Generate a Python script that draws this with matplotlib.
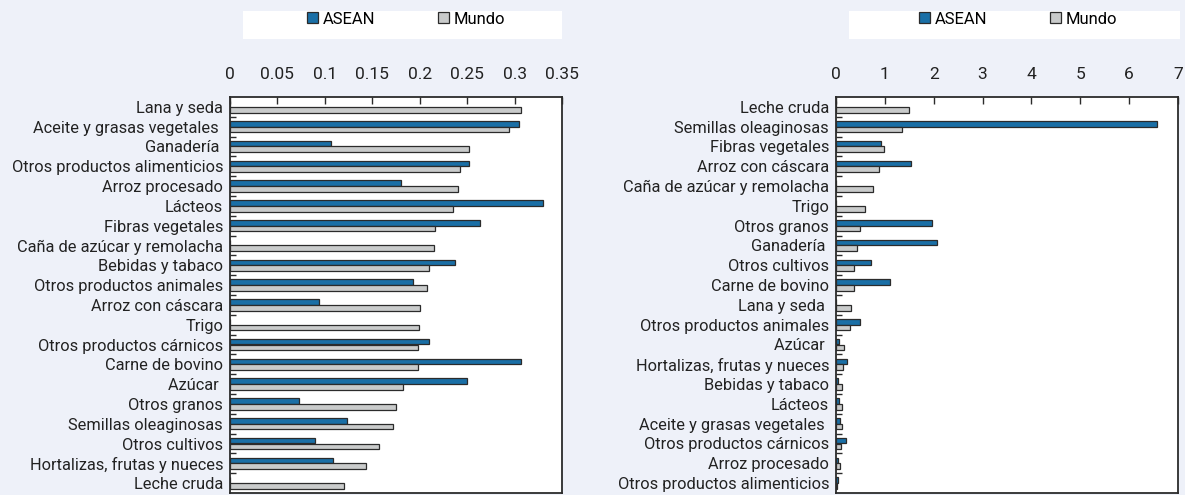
import matplotlib
matplotlib.use("Agg")
import matplotlib.pyplot as plt
from matplotlib.patches import Patch, Rectangle
import numpy as np

plt.rcParams['font.family'] = ['Roboto', 'DejaVu Sans']

# ---- data: left panel ----
left_categories = ["Lana y seda", "Aceite y grasas vegetales ", "Ganadería ", "Otros productos alimenticios",
                   "Arroz procesado", "Lácteos", "Fibras vegetales", "Caña de azúcar y remolacha",
                   "Bebidas y tabaco", "Otros productos animales", "Arroz con cáscara", "Trigo",
                   "Otros productos cárnicos", "Carne de bovino", "Azúcar ", "Otros granos",
                   "Semillas oleaginosas", "Otros cultivos", "Hortalizas, frutas y nueces", "Leche cruda"]
left_asean = [0.0, 0.305, 0.107, 0.252, 0.180, 0.330, 0.264, 0.0, 0.237, 0.193, 0.094, 0.0,
              0.210, 0.307, 0.250, 0.073, 0.123, 0.090, 0.109, 0.0]
left_mundo = [0.307, 0.294, 0.252, 0.2425, 0.240, 0.235, 0.216, 0.215, 0.210, 0.208, 0.200, 0.199,
              0.198, 0.198, 0.182, 0.175, 0.172, 0.157, 0.143, 0.120]
left_ticks = [0, 0.05, 0.1, 0.15, 0.2, 0.25, 0.3, 0.35]
left_ticklabels = ["0", "0.05", "0.1", "0.15", "0.2", "0.25", "0.3", "0.35"]

# ---- data: right panel ----
right_categories = ["Leche cruda", "Semillas oleaginosas", "Fibras vegetales", "Arroz con cáscara",
                    "Caña de azúcar y remolacha", "Trigo", "Otros granos", "Ganadería ",
                    "Otros cultivos", "Carne de bovino", "Lana y seda ", "Otros productos animales",
                    "Azúcar ", "Hortalizas, frutas y nueces", "Bebidas y tabaco", "Lácteos",
                    "Aceite y grasas vegetales ", "Otros productos cárnicos", "Arroz procesado",
                    "Otros productos alimenticios"]
right_asean = [0.0, 6.57, 0.93, 1.53, 0.0, 0.0, 1.96, 2.07, 0.71, 1.11, 0.0, 0.49, 0.07, 0.22,
               0.05, 0.07, 0.08, 0.20, 0.05, 0.05]
right_mundo = [1.50, 1.36, 0.98, 0.87, 0.76, 0.60, 0.49, 0.42, 0.36, 0.36, 0.31, 0.28, 0.17, 0.15,
               0.13, 0.13, 0.12, 0.10, 0.09, 0.03]
right_ticks = [0, 1, 2, 3, 4, 5, 6, 7]
right_ticklabels = ["0", "1", "2", "3", "4", "5", "6", "7"]

series_names = ["ASEAN", "Mundo"]
c_asean = "#1A6FA6"
c_mundo = "#C9CBCB"
edge = "#2B2B2B"
bg = "#EEF1F9"
FS = 12

W, H = 1185, 495
fig = plt.figure(figsize=(W / 100, H / 100), dpi=100, facecolor=bg)


def draw_panel(rect, cats, asean, mundo, ticks, ticklabels, xmax):
    ax = fig.add_axes(rect)
    ax.set_facecolor("white")
    n = len(cats)
    y = np.arange(n)
    h = 0.29
    ax.barh(y - h / 2, asean, height=h, color=c_asean, edgecolor=edge, linewidth=0.9)
    ax.barh(y + h / 2, mundo, height=h, color=c_mundo, edgecolor=edge, linewidth=0.9)
    ax.set_ylim(n - 0.5, -0.5)
    ax.set_xlim(0, xmax)
    ax.xaxis.tick_top()
    ax.set_xticks(ticks)
    ax.set_xticklabels(ticklabels)
    ax.tick_params(axis='x', direction='in', length=5, width=1.0, pad=11,
                   labelsize=12.5, colors=edge, labelcolor="#222222")
    ax.set_yticks(y)
    ax.set_yticklabels(cats)
    ax.tick_params(axis='y', which='major', length=0, pad=5, labelsize=11.8, labelcolor="#222222")
    ax.set_yticks(np.arange(n - 1) + 0.5, minor=True)
    ax.tick_params(axis='y', which='minor', direction='in', length=4, width=1.0, color=edge)
    for s in ax.spines.values():
        s.set_linewidth(1.3)
        s.set_color(edge)
    return ax


draw_panel([230 / W, 2 / H, 332 / W, 396 / H], left_categories, left_asean, left_mundo,
           left_ticks, left_ticklabels, 0.35)
draw_panel([836 / W, 2 / H, 342 / W, 396 / H], right_categories, right_asean, right_mundo,
           right_ticks, right_ticklabels, 7)

# legend boxes
for (x0, x1, cx) in [(243, 562, 406), (849, 1180, 1018)]:
    fig.patches.append(Rectangle((x0 / W, 1 - 39 / H), (x1 - x0) / W, 28 / H,
                                 transform=fig.transFigure, facecolor="white",
                                 edgecolor="none", zorder=0))
    handles = [Patch(facecolor=c_asean, edgecolor=edge, linewidth=0.9),
               Patch(facecolor=c_mundo, edgecolor=edge, linewidth=0.9)]
    fig.legend(handles, series_names, loc="center", bbox_to_anchor=(cx / W, 1 - 19 / H),
               ncol=2, frameon=False, fontsize=FS, handlelength=0.65, handleheight=0.65,
               handletextpad=0.25, columnspacing=3.8, borderpad=0, borderaxespad=0)

fig.savefig("out.png", dpi=100, facecolor=bg)
